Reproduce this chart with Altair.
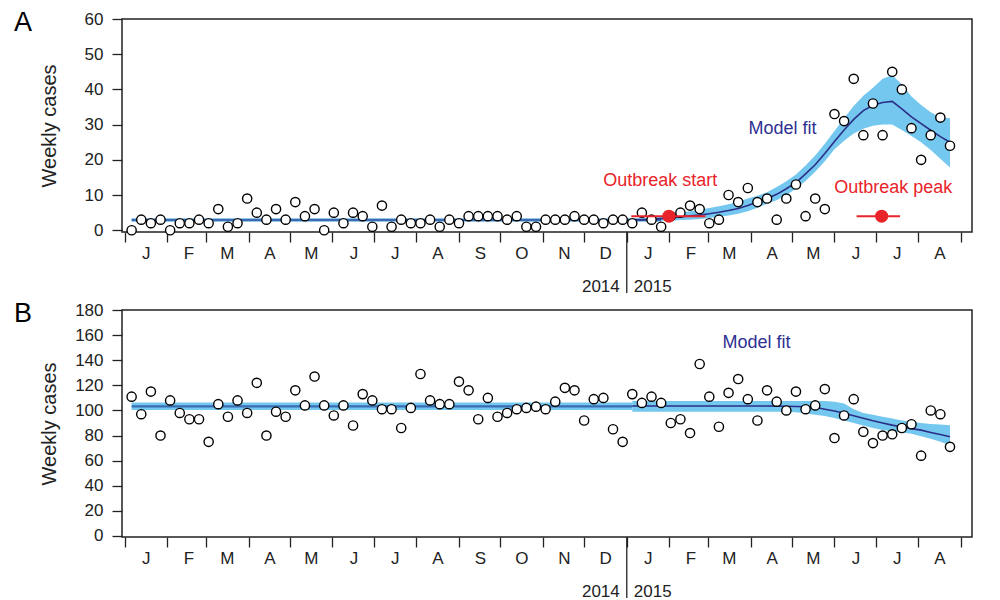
import altair as alt
import pandas as pd

# ---------------- data ----------------
FIRST_WEEK = "2014-01-06"          # date of week index 0
X_START = (2013, 12, 30)           # left edge of the plot box
X_END = (2015, 9, 9)               # right edge of the plot box

# Panel A weekly cases (week 0 .. 85)
cases_a = [0, 3, 2, 3, 0, 2, 2, 3, 2, 6, 1, 2, 9, 5, 3, 6, 3, 8, 4, 6,
           0, 5, 2, 5, 4, 1, 7, 1, 3, 2, 2, 3, 1, 3, 2, 4, 4, 4, 4, 3,
           4, 1, 1, 3, 3, 3, 4, 3, 3, 2, 3, 3, 2, 5, 3, 1, 4, 5, 7, 6,
           2, 3, 10, 8, 12, 8, 9, 3, 9, 13, 4, 9, 6, 33, 31, 43, 27, 36, 27, 45,
           40, 29, 20, 27, 32, 24]

# Panel B weekly cases (week 0 .. 85)
cases_b = [111, 97, 115, 80, 108, 98, 93, 93, 75, 105, 95, 108, 98, 122, 80, 99, 95, 116, 104, 127,
           104, 96, 104, 88, 113, 108, 101, 101, 86, 102, 129, 108, 105, 105, 123, 116, 93, 110, 95, 98,
           101, 102, 103, 101, 107, 118, 116, 92, 109, 110, 85, 75, 113, 106, 111, 106, 90, 93, 82, 137,
           111, 87, 114, 125, 109, 92, 116, 107, 100, 115, 101, 104, 117, 78, 96, 109, 83, 74, 80, 81,
           86, 89, 64, 100, 97, 71]

# Model fit for 2015 (weeks 52 .. 85)
late_weeks = list(range(52, 86))
fit_a = [2.9, 3.0, 3.1, 3.3, 3.5, 3.8, 4.1, 4.3, 4.7, 5.1, 5.6, 6.2, 7.0, 8.0, 9.0, 10.2, 11.8,
         13.5, 16.0, 18.6, 21.8, 25.2, 28.5, 31.5, 34.0, 35.5, 36.3, 36.6, 34.5, 32.2, 30.3,
         28.4, 26.6, 25.0]
upper_a = [3.3, 3.4, 3.6, 3.9, 4.5, 5.0, 5.4, 5.8, 6.3, 6.8, 7.4, 8.1, 9.0, 9.8, 10.8, 12.3, 13.9,
           15.8, 18.4, 21.2, 24.6, 28.2, 31.8, 35.3, 38.2, 40.5, 43.0, 44.0, 41.5, 38.0, 35.6,
           33.5, 32.0, 31.8]
lower_a = [2.5, 2.6, 2.7, 2.8, 2.7, 2.9, 3.0, 3.2, 3.5, 3.8, 4.2, 4.7, 5.4, 6.4, 7.5, 8.5, 10.0,
           11.8, 14.0, 16.6, 19.6, 23.0, 25.4, 27.5, 28.8, 29.7, 30.0, 30.0, 28.5, 26.8, 25.0,
           22.8, 20.3, 17.8]

fit_b = [103.5, 103.5, 103.5, 103.5, 103.5, 103.5, 103.5, 103.5, 103.5, 103.5, 103.5, 103.5,
         103.5, 103.5, 103.5, 103.4, 103.3, 103.2, 103.0, 102.5, 101.0, 99.5, 97.8, 95.8, 93.8,
         91.8, 90.0, 88.3, 86.8, 85.5, 84.3, 82.5, 80.8, 79.0]
upper_b = [107.5, 107.5, 107.5, 107.5, 107.5, 107.5, 107.5, 107.5, 107.5, 107.5, 107.5, 107.5,
           107.5, 107.5, 107.5, 107.5, 107.5, 107.5, 107.5, 107.5, 107.5, 107.0, 105.5, 101.0,
           98.0, 96.5, 95.0, 93.5, 92.0, 91.0, 90.0, 89.3, 88.8, 88.3]
lower_b = [99.0, 99.0, 99.0, 99.0, 99.0, 99.0, 99.0, 99.0, 99.0, 99.0, 99.0, 99.0, 99.0, 99.0,
           99.0, 99.0, 99.0, 98.5, 97.5, 96.5, 95.5, 94.0, 92.0, 90.0, 88.0, 86.0, 84.5, 83.5,
           82.5, 81.5, 79.5, 77.5, 75.0, 72.3]

# 2014 baseline (flat) segments: start / end week and level
base_weeks_a = [0, 55]
base_a = [2.9, 2.9]
base_lo_a = [2.5, 2.5]
base_hi_a = [3.3, 3.3]
base_weeks_b = [0, 52]
base_b = [103.3, 103.3]
base_lo_b = [100.3, 100.3]
base_hi_b = [106.3, 106.3]

# Outbreak start / peak estimates (weeks) with intervals, panel A
outbreak_names = ["start", "peak"]
outbreak_week = [55.8, 77.9]
outbreak_lo = [51.9, 75.3]
outbreak_hi = [59.6, 79.8]
outbreak_level = [4, 4]

# Annotation anchors (week, value)
ann_a = [("Outbreak start", 54.9, 14.1, "#e8232a"),
         ("Outbreak peak", 79.1, 11.9, "#e8232a"),
         ("Model fit", 67.6, 28.7, "#2e3192")]
ann_b = [("Model fit", 64.9, 153.4, "#2e3192")]

MONTH_TICKS = [(2014, m) for m in range(1, 13)] + [(2015, m) for m in range(1, 10)]
YEAR_SPLIT = (2015, 1, 1)

# ---------------- styling ----------------
FONT = "Liberation Sans"
TXT = "#222222"
BAND = "#74c7ee"
NAVY = "#2b2f87"
STEEL = "#3a6cb4"
RED = "#e8232a"
W = 850

BASE = pd.Timestamp(FIRST_WEEK)


def wdate(w):
    return (BASE + pd.Timedelta(days=7 * w)).strftime("%Y-%m-%dT%H:%M:%S")


def dt(y, m, d):
    return alt.DateTime(year=y, month=m, date=d)


def panel(letter, cases, fit, lo, hi, bweeks, bval, blo, bhi, ydomain, ystep, height,
          annotations, outbreak=False, base_width=2.5):
    xsc = alt.Scale(domain=[dt(*X_START), dt(*X_END)], nice=False)
    ysc = alt.Scale(domain=ydomain, nice=False, zero=False)

    x_axis = alt.Axis(
        values=[dt(y, m, 1) for (y, m) in MONTH_TICKS],
        labelExpr="datum.value >= datetime(2015, 8, 1) ? '' : substring(timeFormat(datum.value, '%b'), 0, 1)",
        labelOffset=21, labelPadding=3, tickSize=10, tickWidth=1.3, tickColor=TXT,
        labelColor=TXT, labelFontSize=17, labelFont=FONT, domain=False, grid=False,
        labelOverlap=False, labelFlush=False, labelBound=False, title=None,
    )
    y_axis = alt.Axis(
        values=list(range(0, int(ydomain[1]) + 1, ystep)), tickSize=10, tickWidth=1.3,
        tickColor=TXT, labelColor=TXT, labelFontSize=17, labelFont=FONT, labelPadding=9,
        domain=False, grid=False, title="Weekly cases", titleFontSize=20,
        titleFontWeight="normal", titleFont=FONT, titleColor=TXT, titleX=-73,
        titleY=height / 2, titleAngle=-90, titleAlign="center", titleBaseline="middle",
    )

    def X(field):
        return alt.X(f"{field}:T", scale=xsc, axis=x_axis)

    def Y(field):
        return alt.Y(f"{field}:Q", scale=ysc, axis=y_axis)

    obs = pd.DataFrame({"date": [wdate(i) for i in range(len(cases))], "cases": cases})
    late = pd.DataFrame({"date": [wdate(w) for w in late_weeks], "fit": fit, "lo": lo, "hi": hi})
    early = pd.DataFrame({"date": [wdate(w) for w in bweeks], "fit": bval, "lo": blo, "hi": bhi})

    layers = []
    layers.append(alt.Chart(early).mark_area(color=BAND, opacity=1).encode(
        x=X("date"), y=Y("hi"), y2="lo"))
    layers.append(alt.Chart(late).mark_area(color=BAND, opacity=1).encode(
        x=X("date"), y=Y("hi"), y2="lo"))
    layers.append(alt.Chart(early).mark_line(color=STEEL, strokeWidth=base_width).encode(
        x=X("date"), y=Y("fit")))
    layers.append(alt.Chart(late).mark_line(color=NAVY, strokeWidth=1.6).encode(
        x=X("date"), y=Y("fit")))
    layers.append(alt.Chart(obs).mark_point(
        shape="circle", filled=True, fill="white", stroke="black", strokeWidth=1.4,
        size=85, opacity=1).encode(x=X("date"), y=Y("cases")))

    if outbreak:
        ob = pd.DataFrame({
            "name": outbreak_names,
            "date": [wdate(w) for w in outbreak_week],
            "lo": [wdate(w) for w in outbreak_lo],
            "hi": [wdate(w) for w in outbreak_hi],
            "level": outbreak_level,
        })
        layers.append(alt.Chart(ob).mark_rule(color=RED, strokeWidth=2).encode(
            x=X("lo"), x2="hi", y=Y("level")))
        layers.append(alt.Chart(ob).mark_point(
            shape="circle", filled=True, color=RED, size=170, opacity=1).encode(
            x=X("date"), y=Y("level")))

    ann = pd.DataFrame({
        "text": [a[0] for a in annotations],
        "date": [wdate(a[1]) for a in annotations],
        "val": [a[2] for a in annotations],
        "color": [a[3] for a in annotations],
    })
    layers.append(alt.Chart(ann).mark_text(fontSize=18, font=FONT, align="center",
                                           baseline="middle").encode(
        x=X("date"), y=Y("val"), text="text:N",
        color=alt.Color("color:N", scale=None)))

    split = pd.DataFrame({"date": [f"{YEAR_SPLIT[0]:04d}-{YEAR_SPLIT[1]:02d}-{YEAR_SPLIT[2]:02d}T00:00:00"],
                          "left": [str(YEAR_SPLIT[0] - 1)], "right": [str(YEAR_SPLIT[0])]})
    layers.append(alt.Chart(split).mark_rule(color=TXT, strokeWidth=1.3).encode(
        x=X("date"), y=alt.value(height), y2=alt.value(height + 61)))
    layers.append(alt.Chart(split).mark_text(fontSize=17, font=FONT, color=TXT, align="right",
                                             baseline="middle", dx=-7).encode(
        x=X("date"), y=alt.value(height + 55), text="left:N"))
    layers.append(alt.Chart(split).mark_text(fontSize=17, font=FONT, color=TXT, align="left",
                                             baseline="middle", dx=7).encode(
        x=X("date"), y=alt.value(height + 55), text="right:N"))

    layers.append(alt.Chart(pd.DataFrame({"t": [letter]})).mark_text(
        fontSize=27, font=FONT, color="black", align="left", baseline="middle").encode(
        x=alt.value(-108), y=alt.value(4), text="t:N"))

    return alt.layer(*layers).properties(width=W, height=height)


panel_a = panel("A", cases_a, fit_a, lower_a, upper_a, base_weeks_a, base_a, base_lo_a, base_hi_a,
                [-0.5, 60], 10, 213, ann_a, outbreak=True, base_width=2.5)
panel_b = panel("B", cases_b, fit_b, lower_b, upper_b, base_weeks_b, base_b, base_lo_b, base_hi_b,
                [-0.8, 180], 20, 227, ann_b, outbreak=False, base_width=2.2)

chart = alt.vconcat(panel_a, panel_b, spacing=78, bounds="flush").properties(
    padding={"left": 5, "top": 0, "right": 5, "bottom": 5},
    background="white",
).configure(font=FONT).configure_view(stroke=TXT, strokeWidth=1.5)

chart.save("out.html", embed_options={"renderer": "svg", "actions": False})
